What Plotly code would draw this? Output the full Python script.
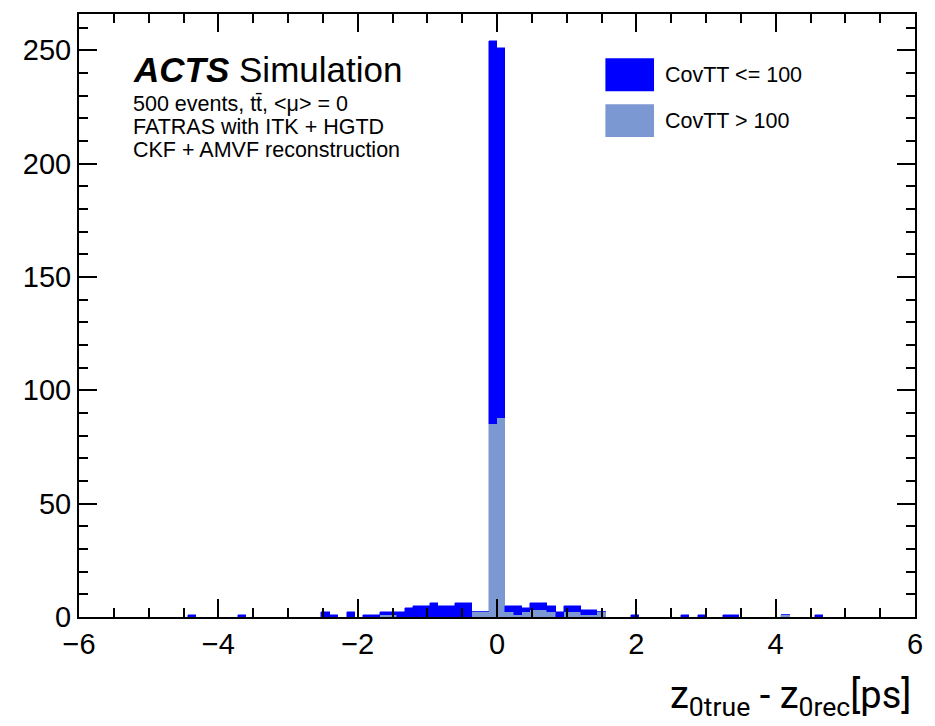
import numpy as np
import plotly.graph_objects as go

# ---- data ----
x_min, x_max, n_bins = -6.0, 6.0, 100
bin_width = (x_max - x_min) / n_bins
bin_index = [13, 19, 29, 30, 32, 34, 35, 36, 37, 38, 39, 40, 41, 42, 43, 44, 45, 46, 47, 48,
             49, 50, 51, 52, 53, 54, 55, 56, 57, 58, 59, 60, 61, 62, 66, 72, 74, 77, 78, 84, 88]
covtt_low = [1, 1, 2, 1, 2, 1, 1, 1, 1, 2, 4, 5, 5, 6, 5, 5, 6, 6, 0, 0,
             169, 163, 3, 4, 2, 3, 3, 3, 2, 3, 3, 2, 2, 0, 1, 1, 1, 1, 1, 0, 1]
covtt_high = [0, 0, 0, 0, 0, 0, 0, 1, 1, 0, 0, 0, 0, 0, 0, 0, 0, 0, 2, 2,
              85, 88, 2, 1, 2, 3, 3, 2, 0, 2, 2, 1, 1, 2, 0, 0, 0, 0, 0, 1, 0]
name_low = "CovTT <= 100"
name_high = "CovTT > 100"

centers = [x_min + (k + 0.5) * bin_width for k in bin_index]

BLUE = "#0000ff"
LIGHT = "#7b98d2"

fig = go.Figure()
fig.add_trace(go.Bar(x=centers, y=covtt_high, width=bin_width, name=name_high,
                     marker=dict(color=LIGHT, line=dict(color=LIGHT, width=0.5))))
fig.add_trace(go.Bar(x=centers, y=covtt_low, width=bin_width, name=name_low,
                     marker=dict(color=BLUE, line=dict(color=BLUE, width=0.5))))

W, H = 935, 726
L, R, T, B = 78.5, 14, 12, 108.5
pw, ph = W - L - R, H - T - B

def px(xp):
    return (xp - L) / pw

def py(yp):
    return (H - B - yp) / ph

font_main = "Liberation Sans, Arial, sans-serif"

fig.update_layout(
    width=W, height=H,
    margin=dict(l=L, r=R, t=T, b=B, pad=0),
    paper_bgcolor="white", plot_bgcolor="white",
    barmode="stack", bargap=0, showlegend=False,
    font=dict(family=font_main, color="black"),
)
fig.update_xaxes(
    range=[x_min, x_max], tickmode="array", tickvals=[-6, -4, -2, 0, 2, 4, 6],
    ticks="inside", ticklen=18, tickwidth=1.5, tickcolor="black",
    minor=dict(dtick=0.5, tick0=0, ticks="inside", ticklen=9, tickwidth=1.5, tickcolor="black"),
    showline=True, linecolor="black", linewidth=2, mirror="ticks",
    showgrid=False, zeroline=False, tickfont=dict(size=29, family=font_main),
)
fig.update_yaxes(
    range=[0, 266], tickmode="linear", tick0=0, dtick=50,
    ticks="inside", ticklen=18, tickwidth=1.5, tickcolor="black",
    minor=dict(dtick=10, tick0=0, ticks="inside", ticklen=9, tickwidth=1.5, tickcolor="black"),
    showline=True, linecolor="black", linewidth=2, mirror="ticks",
    showgrid=False, zeroline=False, tickfont=dict(size=29, family=font_main),
)

ann = []
ann.append(dict(x=px(131), y=py(68), xref="paper", yref="paper", xanchor="left", yanchor="middle",
                showarrow=False, text="<b><i>ACTS</i></b> Simulation",
                font=dict(size=35, family=font_main)))
info = ["500 events, tt\u0304, &lt;\u03bc&gt; = 0", "FATRAS with ITK + HGTD", "CKF + AMVF reconstruction"]
for i, t in enumerate(info):
    ann.append(dict(x=px(131), y=py(102 + i * 23.5), xref="paper", yref="paper",
                    xanchor="left", yanchor="middle", showarrow=False, text=t,
                    font=dict(size=21.5, family=font_main)))
# legend
shapes = []
for i, (nm, col) in enumerate([(name_low, BLUE), (name_high, LIGHT)]):
    yc = 73 + i * 46
    shapes.append(dict(type="rect", xref="paper", yref="paper",
                       x0=px(609), x1=px(658), y0=py(yc - 16.5), y1=py(yc + 16.5),
                       fillcolor=col, line=dict(width=0)))
    ann.append(dict(x=px(667), y=py(yc), xref="paper", yref="paper", xanchor="left",
                    yanchor="middle", showarrow=False, text=nm,
                    font=dict(size=21.5, family=font_main)))
ann.append(dict(x=px(919), y=py(698), xref="paper", yref="paper", xanchor="right",
                yanchor="middle", showarrow=False,
                text="z<sub>0true</sub> - z<sub>0rec</sub>[ps]",
                font=dict(size=38, family="Roboto, sans-serif")))
fig.update_layout(annotations=ann, shapes=shapes)

fig.write_html("out.html")
